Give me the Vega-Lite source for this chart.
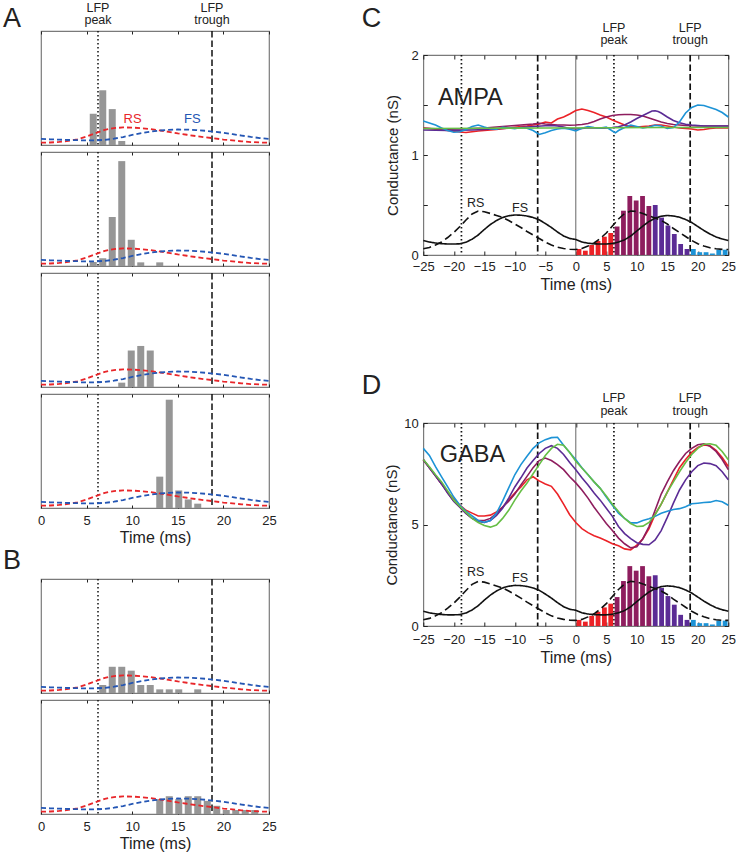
{
"$schema":"https://vega.github.io/schema/vega-lite/v6.json",
"background":"white",
"padding":{"left":2,"top":0,"right":0,"bottom":0},
"autosize":{"type":"pad"},
"spacing":83.3,
"config":{
 "font":"Liberation Sans",
 "scale":{"continuousPadding":0},
 "view":{"stroke":"#7a7a7a","strokeWidth":1.2},
 "axis":{"domain":false,"grid":false,"tickColor":"#222","tickWidth":1,"tickSize":-4,"labelFont":"Liberation Sans","labelFontSize":13,"labelColor":"#222","labelFlush":false,"labelOverlap":false,"titleFont":"Liberation Sans","titleFontSize":16,"titleFontWeight":"normal","titleColor":"#222","labelPadding":9},
 "text":{"font":"Liberation Sans","color":"#222","baseline":"alphabetic"}
},
"datasets":{
 "spacer":[{"t":0}],
 "vlinesA":[{"t":6.25,"k":"dot"},{"t":18.75,"k":"dash"}],
 "vlinesC":[{"t":-18.75,"k":"dot"},{"t":-6.25,"k":"dash"},{"t":6.25,"k":"dot"},{"t":18.75,"k":"dash"}],
 "zeroline":[{"t":0}],
 "curvesA":[
  {"t":0,"v":0.02,"s":"RS"},{"t":1,"v":0.022,"s":"RS"},{"t":2,"v":0.027,"s":"RS"},{"t":3,"v":0.036,"s":"RS"},{"t":4,"v":0.05,"s":"RS"},{"t":5,"v":0.075,"s":"RS"},{"t":6,"v":0.105,"s":"RS"},{"t":7,"v":0.133,"s":"RS"},{"t":8,"v":0.148,"s":"RS"},{"t":9,"v":0.154,"s":"RS"},{"t":10,"v":0.153,"s":"RS"},{"t":11,"v":0.148,"s":"RS"},{"t":12,"v":0.14,"s":"RS"},{"t":13,"v":0.128,"s":"RS"},{"t":14,"v":0.116,"s":"RS"},{"t":15,"v":0.102,"s":"RS"},{"t":16,"v":0.09,"s":"RS"},{"t":17,"v":0.078,"s":"RS"},{"t":18,"v":0.068,"s":"RS"},{"t":19,"v":0.058,"s":"RS"},{"t":20,"v":0.048,"s":"RS"},{"t":21,"v":0.04,"s":"RS"},{"t":22,"v":0.032,"s":"RS"},{"t":23,"v":0.026,"s":"RS"},{"t":24,"v":0.022,"s":"RS"},{"t":25,"v":0.02,"s":"RS"},
  {"t":0,"v":0.053,"s":"FS"},{"t":1,"v":0.05,"s":"FS"},{"t":2,"v":0.047,"s":"FS"},{"t":3,"v":0.044,"s":"FS"},{"t":4,"v":0.042,"s":"FS"},{"t":5,"v":0.04,"s":"FS"},{"t":6,"v":0.041,"s":"FS"},{"t":7,"v":0.045,"s":"FS"},{"t":8,"v":0.055,"s":"FS"},{"t":9,"v":0.07,"s":"FS"},{"t":10,"v":0.088,"s":"FS"},{"t":11,"v":0.104,"s":"FS"},{"t":12,"v":0.117,"s":"FS"},{"t":13,"v":0.127,"s":"FS"},{"t":14,"v":0.133,"s":"FS"},{"t":15,"v":0.136,"s":"FS"},{"t":16,"v":0.135,"s":"FS"},{"t":17,"v":0.131,"s":"FS"},{"t":18,"v":0.125,"s":"FS"},{"t":19,"v":0.117,"s":"FS"},{"t":20,"v":0.107,"s":"FS"},{"t":21,"v":0.095,"s":"FS"},{"t":22,"v":0.083,"s":"FS"},{"t":23,"v":0.071,"s":"FS"},{"t":24,"v":0.061,"s":"FS"},{"t":25,"v":0.053,"s":"FS"}
 ],
 "barsA1":[{"t":5.729,"h":0.274},{"t":6.771,"h":0.48},{"t":7.813,"h":0.315},{"t":8.854,"h":0.035}],
 "barsA2":[{"t":5.729,"h":0.035},{"t":6.771,"h":0.068},{"t":7.813,"h":0.43},{"t":8.854,"h":0.92},{"t":9.896,"h":0.23},{"t":10.938,"h":0.032},{"t":13.021,"h":0.032}],
 "barsA3":[{"t":8.854,"h":0.038},{"t":9.896,"h":0.32},{"t":10.938,"h":0.36},{"t":11.979,"h":0.32}],
 "barsA4":[{"t":13.021,"h":0.275},{"t":14.063,"h":0.95},{"t":15.104,"h":0.154},{"t":16.146,"h":0.075},{"t":17.188,"h":0.038}],
 "barsB1":[{"t":6.771,"h":0.07},{"t":7.813,"h":0.23},{"t":8.854,"h":0.23},{"t":9.896,"h":0.196},{"t":10.938,"h":0.07},{"t":11.979,"h":0.07},{"t":13.021,"h":0.032},{"t":14.063,"h":0.032},{"t":15.104,"h":0.032},{"t":17.188,"h":0.032}],
 "barsB2":[{"t":13.021,"h":0.13},{"t":14.063,"h":0.156},{"t":15.104,"h":0.13},{"t":16.146,"h":0.156},{"t":17.188,"h":0.156},{"t":18.229,"h":0.115},{"t":19.271,"h":0.072},{"t":20.313,"h":0.035},{"t":21.354,"h":0.035},{"t":22.396,"h":0.035},{"t":23.438,"h":0.035}],
 "lfpA":[{"t":6.25,"v":1.171,"label":"LFP"},{"t":6.25,"v":1.061,"label":"peak"},{"t":18.75,"v":1.171,"label":"LFP"},{"t":18.75,"v":1.061,"label":"trough"}],
 "rsfsA":[{"t":10.05,"v":0.196,"label":"RS","s":"RS"},{"t":16.6,"v":0.196,"label":"FS","s":"FS"}],
 "letterA":[{"t":-4.17,"v":1.035,"label":"A"}],
 "letterB":[{"t":-4.17,"v":1.088,"label":"B"}],
 "textC":[{"t":6.25,"v":2.231,"label":"LFP"},{"t":6.25,"v":2.106,"label":"peak"},{"t":18.75,"v":2.231,"label":"LFP"},{"t":18.75,"v":2.106,"label":"trough"},{"t":-16.4,"v":0.485,"label":"RS"},{"t":-9.15,"v":0.43,"label":"FS"}],
 "bigC":[{"t":-22.6,"v":1.5,"label":"AMPA"}],
 "letterC":[{"t":-35.1,"v":2.28,"label":"C"}],
 "textD":[{"t":6.25,"v":11.03,"label":"LFP"},{"t":6.25,"v":10.41,"label":"peak"},{"t":18.75,"v":11.03,"label":"LFP"},{"t":18.75,"v":10.41,"label":"trough"},{"t":-16.4,"v":2.45,"label":"RS"},{"t":-9.15,"v":2.15,"label":"FS"}],
 "bigD":[{"t":-22.3,"v":8.07,"label":"GABA"}],
 "letterD":[{"t":-35.1,"v":11.41,"label":"D"}],
 "barsC":[
  {"t":0.521,"h":0.06,"g":"red"},{"t":1.563,"h":0.043,"g":"red"},{"t":2.604,"h":0.1,"g":"red"},{"t":3.646,"h":0.14,"g":"red"},{"t":4.688,"h":0.183,"g":"red"},{"t":5.729,"h":0.22,"g":"red"},
  {"t":6.771,"h":0.285,"g":"maroon"},{"t":7.813,"h":0.443,"g":"maroon"},{"t":8.854,"h":0.59,"g":"maroon"},{"t":9.896,"h":0.545,"g":"maroon"},{"t":10.938,"h":0.59,"g":"maroon"},{"t":11.979,"h":0.49,"g":"maroon"},
  {"t":13.021,"h":0.5,"g":"purple"},{"t":14.063,"h":0.374,"g":"purple"},{"t":15.104,"h":0.295,"g":"purple"},{"t":16.146,"h":0.21,"g":"purple"},{"t":17.188,"h":0.11,"g":"purple"},{"t":18.229,"h":0.06,"g":"purple"},
  {"t":19.271,"h":0.06,"g":"blue"},{"t":20.313,"h":0.028,"g":"blue"},{"t":21.354,"h":0.028,"g":"blue"},{"t":22.396,"h":0.015,"g":"blue"},{"t":23.438,"h":0.053,"g":"blue"},{"t":24.479,"h":0.053,"g":"blue"}
 ],
 "barsD":[
  {"t":0.521,"h":0.3,"g":"red"},{"t":1.563,"h":0.215,"g":"red"},{"t":2.604,"h":0.5,"g":"red"},{"t":3.646,"h":0.7,"g":"red"},{"t":4.688,"h":0.915,"g":"red"},{"t":5.729,"h":1.1,"g":"red"},
  {"t":6.771,"h":1.425,"g":"maroon"},{"t":7.813,"h":2.215,"g":"maroon"},{"t":8.854,"h":2.95,"g":"maroon"},{"t":9.896,"h":2.725,"g":"maroon"},{"t":10.938,"h":2.95,"g":"maroon"},{"t":11.979,"h":2.45,"g":"maroon"},
  {"t":13.021,"h":2.5,"g":"purple"},{"t":14.063,"h":1.87,"g":"purple"},{"t":15.104,"h":1.475,"g":"purple"},{"t":16.146,"h":1.05,"g":"purple"},{"t":17.188,"h":0.55,"g":"purple"},{"t":18.229,"h":0.3,"g":"purple"},
  {"t":19.271,"h":0.3,"g":"blue"},{"t":20.313,"h":0.14,"g":"blue"},{"t":21.354,"h":0.14,"g":"blue"},{"t":22.396,"h":0.075,"g":"blue"},{"t":23.438,"h":0.265,"g":"blue"},{"t":24.479,"h":0.265,"g":"blue"}
 ],
 "blackC":[
  {"t":-25,"v":0.062,"s":"RS"},{"t":-24,"v":0.075,"s":"RS"},{"t":-23,"v":0.1,"s":"RS"},{"t":-22,"v":0.13,"s":"RS"},{"t":-21,"v":0.175,"s":"RS"},{"t":-20,"v":0.225,"s":"RS"},{"t":-19,"v":0.285,"s":"RS"},{"t":-18,"v":0.35,"s":"RS"},{"t":-17,"v":0.41,"s":"RS"},{"t":-16,"v":0.44,"s":"RS"},{"t":-15,"v":0.432,"s":"RS"},{"t":-14,"v":0.415,"s":"RS"},{"t":-13,"v":0.395,"s":"RS"},{"t":-12,"v":0.375,"s":"RS"},{"t":-11,"v":0.345,"s":"RS"},{"t":-10,"v":0.31,"s":"RS"},{"t":-9,"v":0.275,"s":"RS"},{"t":-8,"v":0.235,"s":"RS"},{"t":-7,"v":0.2,"s":"RS"},{"t":-6,"v":0.165,"s":"RS"},{"t":-5,"v":0.13,"s":"RS"},{"t":-4,"v":0.1,"s":"RS"},{"t":-3,"v":0.078,"s":"RS"},{"t":-2,"v":0.065,"s":"RS"},{"t":-1,"v":0.058,"s":"RS"},
  {"t":0,"v":0.055,"s":"RS"},{"t":1,"v":0.065,"s":"RS"},{"t":2,"v":0.09,"s":"RS"},{"t":3,"v":0.12,"s":"RS"},{"t":4,"v":0.165,"s":"RS"},{"t":5,"v":0.22,"s":"RS"},{"t":6,"v":0.29,"s":"RS"},{"t":7,"v":0.36,"s":"RS"},{"t":8,"v":0.415,"s":"RS"},{"t":9,"v":0.44,"s":"RS"},{"t":10,"v":0.435,"s":"RS"},{"t":11,"v":0.415,"s":"RS"},{"t":12,"v":0.39,"s":"RS"},{"t":13,"v":0.37,"s":"RS"},{"t":14,"v":0.345,"s":"RS"},{"t":15,"v":0.31,"s":"RS"},{"t":16,"v":0.265,"s":"RS"},{"t":17,"v":0.225,"s":"RS"},{"t":18,"v":0.185,"s":"RS"},{"t":19,"v":0.145,"s":"RS"},{"t":20,"v":0.113,"s":"RS"},{"t":21,"v":0.09,"s":"RS"},{"t":22,"v":0.072,"s":"RS"},{"t":23,"v":0.062,"s":"RS"},{"t":24,"v":0.056,"s":"RS"},{"t":25,"v":0.055,"s":"RS"},
  {"t":-25,"v":0.145,"s":"FS"},{"t":-24,"v":0.13,"s":"FS"},{"t":-23,"v":0.12,"s":"FS"},{"t":-22,"v":0.113,"s":"FS"},{"t":-21,"v":0.11,"s":"FS"},{"t":-20,"v":0.11,"s":"FS"},{"t":-19,"v":0.112,"s":"FS"},{"t":-18,"v":0.128,"s":"FS"},{"t":-17,"v":0.158,"s":"FS"},{"t":-16,"v":0.2,"s":"FS"},{"t":-15,"v":0.255,"s":"FS"},{"t":-14,"v":0.305,"s":"FS"},{"t":-13,"v":0.345,"s":"FS"},{"t":-12,"v":0.375,"s":"FS"},{"t":-11,"v":0.392,"s":"FS"},{"t":-10,"v":0.4,"s":"FS"},{"t":-9,"v":0.398,"s":"FS"},{"t":-8,"v":0.39,"s":"FS"},{"t":-7,"v":0.375,"s":"FS"},{"t":-6,"v":0.352,"s":"FS"},{"t":-5,"v":0.315,"s":"FS"},{"t":-4,"v":0.275,"s":"FS"},{"t":-3,"v":0.23,"s":"FS"},{"t":-2,"v":0.19,"s":"FS"},{"t":-1,"v":0.165,"s":"FS"},
  {"t":0,"v":0.155,"s":"FS"},{"t":1,"v":0.13,"s":"FS"},{"t":2,"v":0.118,"s":"FS"},{"t":3,"v":0.112,"s":"FS"},{"t":4,"v":0.11,"s":"FS"},{"t":5,"v":0.11,"s":"FS"},{"t":6,"v":0.115,"s":"FS"},{"t":7,"v":0.13,"s":"FS"},{"t":8,"v":0.152,"s":"FS"},{"t":9,"v":0.19,"s":"FS"},{"t":10,"v":0.24,"s":"FS"},{"t":11,"v":0.29,"s":"FS"},{"t":12,"v":0.335,"s":"FS"},{"t":13,"v":0.368,"s":"FS"},{"t":14,"v":0.388,"s":"FS"},{"t":15,"v":0.395,"s":"FS"},{"t":16,"v":0.39,"s":"FS"},{"t":17,"v":0.378,"s":"FS"},{"t":18,"v":0.355,"s":"FS"},{"t":19,"v":0.325,"s":"FS"},{"t":20,"v":0.285,"s":"FS"},{"t":21,"v":0.245,"s":"FS"},{"t":22,"v":0.21,"s":"FS"},{"t":23,"v":0.18,"s":"FS"},{"t":24,"v":0.16,"s":"FS"},{"t":25,"v":0.145,"s":"FS"}
 ],
 "blackD":[
  {"t":-25,"v":0.31,"s":"RS"},{"t":-24,"v":0.375,"s":"RS"},{"t":-23,"v":0.5,"s":"RS"},{"t":-22,"v":0.65,"s":"RS"},{"t":-21,"v":0.875,"s":"RS"},{"t":-20,"v":1.125,"s":"RS"},{"t":-19,"v":1.425,"s":"RS"},{"t":-18,"v":1.75,"s":"RS"},{"t":-17,"v":2.05,"s":"RS"},{"t":-16,"v":2.2,"s":"RS"},{"t":-15,"v":2.16,"s":"RS"},{"t":-14,"v":2.075,"s":"RS"},{"t":-13,"v":1.975,"s":"RS"},{"t":-12,"v":1.875,"s":"RS"},{"t":-11,"v":1.725,"s":"RS"},{"t":-10,"v":1.55,"s":"RS"},{"t":-9,"v":1.375,"s":"RS"},{"t":-8,"v":1.175,"s":"RS"},{"t":-7,"v":1.0,"s":"RS"},{"t":-6,"v":0.825,"s":"RS"},{"t":-5,"v":0.65,"s":"RS"},{"t":-4,"v":0.5,"s":"RS"},{"t":-3,"v":0.39,"s":"RS"},{"t":-2,"v":0.325,"s":"RS"},{"t":-1,"v":0.29,"s":"RS"},
  {"t":0,"v":0.275,"s":"RS"},{"t":1,"v":0.325,"s":"RS"},{"t":2,"v":0.45,"s":"RS"},{"t":3,"v":0.6,"s":"RS"},{"t":4,"v":0.825,"s":"RS"},{"t":5,"v":1.1,"s":"RS"},{"t":6,"v":1.45,"s":"RS"},{"t":7,"v":1.8,"s":"RS"},{"t":8,"v":2.075,"s":"RS"},{"t":9,"v":2.2,"s":"RS"},{"t":10,"v":2.175,"s":"RS"},{"t":11,"v":2.075,"s":"RS"},{"t":12,"v":1.95,"s":"RS"},{"t":13,"v":1.85,"s":"RS"},{"t":14,"v":1.725,"s":"RS"},{"t":15,"v":1.55,"s":"RS"},{"t":16,"v":1.325,"s":"RS"},{"t":17,"v":1.125,"s":"RS"},{"t":18,"v":0.925,"s":"RS"},{"t":19,"v":0.725,"s":"RS"},{"t":20,"v":0.565,"s":"RS"},{"t":21,"v":0.45,"s":"RS"},{"t":22,"v":0.36,"s":"RS"},{"t":23,"v":0.31,"s":"RS"},{"t":24,"v":0.28,"s":"RS"},{"t":25,"v":0.275,"s":"RS"},
  {"t":-25,"v":0.725,"s":"FS"},{"t":-24,"v":0.65,"s":"FS"},{"t":-23,"v":0.6,"s":"FS"},{"t":-22,"v":0.565,"s":"FS"},{"t":-21,"v":0.55,"s":"FS"},{"t":-20,"v":0.55,"s":"FS"},{"t":-19,"v":0.56,"s":"FS"},{"t":-18,"v":0.64,"s":"FS"},{"t":-17,"v":0.79,"s":"FS"},{"t":-16,"v":1.0,"s":"FS"},{"t":-15,"v":1.275,"s":"FS"},{"t":-14,"v":1.525,"s":"FS"},{"t":-13,"v":1.725,"s":"FS"},{"t":-12,"v":1.875,"s":"FS"},{"t":-11,"v":1.96,"s":"FS"},{"t":-10,"v":2.0,"s":"FS"},{"t":-9,"v":1.99,"s":"FS"},{"t":-8,"v":1.95,"s":"FS"},{"t":-7,"v":1.875,"s":"FS"},{"t":-6,"v":1.76,"s":"FS"},{"t":-5,"v":1.575,"s":"FS"},{"t":-4,"v":1.375,"s":"FS"},{"t":-3,"v":1.15,"s":"FS"},{"t":-2,"v":0.95,"s":"FS"},{"t":-1,"v":0.825,"s":"FS"},
  {"t":0,"v":0.775,"s":"FS"},{"t":1,"v":0.65,"s":"FS"},{"t":2,"v":0.59,"s":"FS"},{"t":3,"v":0.56,"s":"FS"},{"t":4,"v":0.55,"s":"FS"},{"t":5,"v":0.55,"s":"FS"},{"t":6,"v":0.575,"s":"FS"},{"t":7,"v":0.65,"s":"FS"},{"t":8,"v":0.76,"s":"FS"},{"t":9,"v":0.95,"s":"FS"},{"t":10,"v":1.2,"s":"FS"},{"t":11,"v":1.45,"s":"FS"},{"t":12,"v":1.675,"s":"FS"},{"t":13,"v":1.84,"s":"FS"},{"t":14,"v":1.94,"s":"FS"},{"t":15,"v":1.975,"s":"FS"},{"t":16,"v":1.95,"s":"FS"},{"t":17,"v":1.89,"s":"FS"},{"t":18,"v":1.775,"s":"FS"},{"t":19,"v":1.625,"s":"FS"},{"t":20,"v":1.425,"s":"FS"},{"t":21,"v":1.225,"s":"FS"},{"t":22,"v":1.05,"s":"FS"},{"t":23,"v":0.9,"s":"FS"},{"t":24,"v":0.8,"s":"FS"},{"t":25,"v":0.725,"s":"FS"}
 ],
 "ampa":[
  {"t":-25,"v":1.27,"c":"red"},{"t":-24,"v":1.265,"c":"red"},{"t":-23,"v":1.258,"c":"red"},{"t":-22,"v":1.25,"c":"red"},{"t":-21,"v":1.245,"c":"red"},{"t":-20,"v":1.238,"c":"red"},{"t":-19,"v":1.23,"c":"red"},{"t":-18,"v":1.225,"c":"red"},{"t":-17,"v":1.232,"c":"red"},{"t":-16,"v":1.24,"c":"red"},{"t":-15,"v":1.245,"c":"red"},{"t":-14,"v":1.25,"c":"red"},{"t":-13,"v":1.255,"c":"red"},{"t":-12,"v":1.262,"c":"red"},{"t":-11,"v":1.27,"c":"red"},{"t":-10,"v":1.278,"c":"red"},{"t":-9,"v":1.285,"c":"red"},{"t":-8,"v":1.29,"c":"red"},{"t":-7,"v":1.3,"c":"red"},{"t":-6,"v":1.31,"c":"red"},{"t":-5,"v":1.33,"c":"red"},{"t":-4,"v":1.32,"c":"red"},{"t":-3,"v":1.36,"c":"red"},{"t":-2,"v":1.38,"c":"red"},{"t":-1,"v":1.41,"c":"red"},{"t":0,"v":1.445,"c":"red"},{"t":1,"v":1.46,"c":"red"},{"t":2,"v":1.445,"c":"red"},{"t":3,"v":1.425,"c":"red"},{"t":4,"v":1.4,"c":"red"},{"t":5,"v":1.38,"c":"red"},{"t":6,"v":1.35,"c":"red"},{"t":7,"v":1.325,"c":"red"},{"t":8,"v":1.3,"c":"red"},{"t":9,"v":1.285,"c":"red"},{"t":10,"v":1.28,"c":"red"},{"t":11,"v":1.285,"c":"red"},{"t":12,"v":1.29,"c":"red"},{"t":13,"v":1.3,"c":"red"},{"t":14,"v":1.3,"c":"red"},{"t":15,"v":1.29,"c":"red"},{"t":16,"v":1.28,"c":"red"},{"t":17,"v":1.27,"c":"red"},{"t":18,"v":1.265,"c":"red"},{"t":19,"v":1.26,"c":"red"},{"t":20,"v":1.25,"c":"red"},{"t":21,"v":1.255,"c":"red"},{"t":22,"v":1.265,"c":"red"},{"t":23,"v":1.27,"c":"red"},{"t":24,"v":1.27,"c":"red"},{"t":25,"v":1.27,"c":"red"},
  {"t":-25,"v":1.268,"c":"maroon"},{"t":-23,"v":1.262,"c":"maroon"},{"t":-21,"v":1.258,"c":"maroon"},{"t":-19,"v":1.26,"c":"maroon"},{"t":-17,"v":1.265,"c":"maroon"},{"t":-15,"v":1.27,"c":"maroon"},{"t":-13,"v":1.28,"c":"maroon"},{"t":-11,"v":1.29,"c":"maroon"},{"t":-9,"v":1.3,"c":"maroon"},{"t":-7,"v":1.31,"c":"maroon"},{"t":-6,"v":1.318,"c":"maroon"},{"t":-5,"v":1.31,"c":"maroon"},{"t":-4,"v":1.305,"c":"maroon"},{"t":-3,"v":1.3,"c":"maroon"},{"t":-2,"v":1.3,"c":"maroon"},{"t":-1,"v":1.298,"c":"maroon"},{"t":0,"v":1.3,"c":"maroon"},{"t":1,"v":1.305,"c":"maroon"},{"t":2,"v":1.315,"c":"maroon"},{"t":3,"v":1.335,"c":"maroon"},{"t":4,"v":1.36,"c":"maroon"},{"t":5,"v":1.38,"c":"maroon"},{"t":6,"v":1.395,"c":"maroon"},{"t":7,"v":1.402,"c":"maroon"},{"t":8,"v":1.405,"c":"maroon"},{"t":9,"v":1.405,"c":"maroon"},{"t":10,"v":1.4,"c":"maroon"},{"t":11,"v":1.39,"c":"maroon"},{"t":12,"v":1.37,"c":"maroon"},{"t":13,"v":1.35,"c":"maroon"},{"t":14,"v":1.33,"c":"maroon"},{"t":15,"v":1.315,"c":"maroon"},{"t":16,"v":1.305,"c":"maroon"},{"t":17,"v":1.3,"c":"maroon"},{"t":18,"v":1.295,"c":"maroon"},{"t":19,"v":1.292,"c":"maroon"},{"t":20,"v":1.29,"c":"maroon"},{"t":22,"v":1.29,"c":"maroon"},{"t":25,"v":1.29,"c":"maroon"},
  {"t":-25,"v":1.25,"c":"purple"},{"t":-23,"v":1.248,"c":"purple"},{"t":-21,"v":1.245,"c":"purple"},{"t":-19,"v":1.247,"c":"purple"},{"t":-17,"v":1.25,"c":"purple"},{"t":-15,"v":1.255,"c":"purple"},{"t":-13,"v":1.262,"c":"purple"},{"t":-11,"v":1.268,"c":"purple"},{"t":-9,"v":1.275,"c":"purple"},{"t":-7,"v":1.285,"c":"purple"},{"t":-5,"v":1.292,"c":"purple"},{"t":-4,"v":1.295,"c":"purple"},{"t":-3,"v":1.29,"c":"purple"},{"t":-2,"v":1.28,"c":"purple"},{"t":-1,"v":1.265,"c":"purple"},{"t":0,"v":1.26,"c":"purple"},{"t":1,"v":1.265,"c":"purple"},{"t":2,"v":1.272,"c":"purple"},{"t":3,"v":1.27,"c":"purple"},{"t":4,"v":1.268,"c":"purple"},{"t":5,"v":1.27,"c":"purple"},{"t":6,"v":1.275,"c":"purple"},{"t":7,"v":1.283,"c":"purple"},{"t":8,"v":1.3,"c":"purple"},{"t":9,"v":1.33,"c":"purple"},{"t":10,"v":1.365,"c":"purple"},{"t":11,"v":1.395,"c":"purple"},{"t":12,"v":1.425,"c":"purple"},{"t":12.5,"v":1.44,"c":"purple"},{"t":13,"v":1.442,"c":"purple"},{"t":13.5,"v":1.435,"c":"purple"},{"t":14,"v":1.42,"c":"purple"},{"t":15,"v":1.38,"c":"purple"},{"t":16,"v":1.345,"c":"purple"},{"t":17,"v":1.322,"c":"purple"},{"t":18,"v":1.308,"c":"purple"},{"t":19,"v":1.3,"c":"purple"},{"t":20,"v":1.295,"c":"purple"},{"t":21,"v":1.29,"c":"purple"},{"t":25,"v":1.29,"c":"purple"},
  {"t":-25,"v":1.34,"c":"blue"},{"t":-24,"v":1.32,"c":"blue"},{"t":-23,"v":1.3,"c":"blue"},{"t":-22,"v":1.27,"c":"blue"},{"t":-21,"v":1.245,"c":"blue"},{"t":-20,"v":1.228,"c":"blue"},{"t":-19,"v":1.232,"c":"blue"},{"t":-18,"v":1.255,"c":"blue"},{"t":-17,"v":1.285,"c":"blue"},{"t":-16,"v":1.3,"c":"blue"},{"t":-15,"v":1.28,"c":"blue"},{"t":-14,"v":1.262,"c":"blue"},{"t":-13,"v":1.258,"c":"blue"},{"t":-12,"v":1.278,"c":"blue"},{"t":-11,"v":1.27,"c":"blue"},{"t":-10,"v":1.262,"c":"blue"},{"t":-9,"v":1.275,"c":"blue"},{"t":-8,"v":1.268,"c":"blue"},{"t":-7,"v":1.245,"c":"blue"},{"t":-6,"v":1.205,"c":"blue"},{"t":-5,"v":1.222,"c":"blue"},{"t":-4,"v":1.245,"c":"blue"},{"t":-3,"v":1.26,"c":"blue"},{"t":-2,"v":1.268,"c":"blue"},{"t":-1,"v":1.258,"c":"blue"},{"t":0,"v":1.24,"c":"blue"},{"t":1,"v":1.268,"c":"blue"},{"t":2,"v":1.285,"c":"blue"},{"t":3,"v":1.275,"c":"blue"},{"t":4,"v":1.27,"c":"blue"},{"t":5,"v":1.28,"c":"blue"},{"t":6,"v":1.24,"c":"blue"},{"t":6.5,"v":1.222,"c":"blue"},{"t":7,"v":1.245,"c":"blue"},{"t":8,"v":1.275,"c":"blue"},{"t":9,"v":1.298,"c":"blue"},{"t":10,"v":1.285,"c":"blue"},{"t":11,"v":1.27,"c":"blue"},{"t":12,"v":1.28,"c":"blue"},{"t":13,"v":1.298,"c":"blue"},{"t":14,"v":1.29,"c":"blue"},{"t":15,"v":1.265,"c":"blue"},{"t":16,"v":1.275,"c":"blue"},{"t":17,"v":1.33,"c":"blue"},{"t":18,"v":1.42,"c":"blue"},{"t":19,"v":1.475,"c":"blue"},{"t":20,"v":1.5,"c":"blue"},{"t":21,"v":1.495,"c":"blue"},{"t":22,"v":1.475,"c":"blue"},{"t":23,"v":1.455,"c":"blue"},{"t":24,"v":1.425,"c":"blue"},{"t":25,"v":1.38,"c":"blue"},
  {"t":-25,"v":1.265,"c":"green"},{"t":-15,"v":1.268,"c":"green"},{"t":-5,"v":1.27,"c":"green"},{"t":5,"v":1.272,"c":"green"},{"t":15,"v":1.275,"c":"green"},{"t":25,"v":1.275,"c":"green"}
 ],
 "gaba":[
  {"t":-25,"v":8.19,"c":"red"},{"t":-24,"v":7.8,"c":"red"},{"t":-23,"v":7.4,"c":"red"},{"t":-22,"v":7.0,"c":"red"},{"t":-21,"v":6.6,"c":"red"},{"t":-20,"v":6.25,"c":"red"},{"t":-19,"v":5.95,"c":"red"},{"t":-18,"v":5.7,"c":"red"},{"t":-17,"v":5.56,"c":"red"},{"t":-16,"v":5.42,"c":"red"},{"t":-15,"v":5.42,"c":"red"},{"t":-14,"v":5.46,"c":"red"},{"t":-13,"v":5.62,"c":"red"},{"t":-12,"v":5.85,"c":"red"},{"t":-11,"v":6.22,"c":"red"},{"t":-10,"v":6.55,"c":"red"},{"t":-9,"v":6.85,"c":"red"},{"t":-8,"v":7.2,"c":"red"},{"t":-7,"v":7.35,"c":"red"},{"t":-6,"v":7.15,"c":"red"},{"t":-5,"v":7.0,"c":"red"},{"t":-4,"v":6.88,"c":"red"},{"t":-3,"v":6.5,"c":"red"},{"t":-2,"v":6.0,"c":"red"},{"t":-1,"v":5.48,"c":"red"},{"t":0,"v":5.1,"c":"red"},{"t":1,"v":4.8,"c":"red"},{"t":2,"v":4.6,"c":"red"},{"t":3,"v":4.45,"c":"red"},{"t":4,"v":4.33,"c":"red"},{"t":5,"v":4.2,"c":"red"},{"t":6,"v":4.05,"c":"red"},{"t":7,"v":3.95,"c":"red"},{"t":8,"v":3.8,"c":"red"},{"t":9,"v":3.75,"c":"red"},{"t":10,"v":3.98,"c":"red"},{"t":11,"v":4.3,"c":"red"},{"t":12,"v":4.8,"c":"red"},{"t":13,"v":5.5,"c":"red"},{"t":14,"v":6.0,"c":"red"},{"t":15,"v":6.6,"c":"red"},{"t":16,"v":7.2,"c":"red"},{"t":17,"v":7.8,"c":"red"},{"t":18,"v":8.2,"c":"red"},{"t":19,"v":8.55,"c":"red"},{"t":20,"v":8.8,"c":"red"},{"t":21,"v":8.92,"c":"red"},{"t":22,"v":8.88,"c":"red"},{"t":23,"v":8.65,"c":"red"},{"t":24,"v":8.3,"c":"red"},{"t":25,"v":7.86,"c":"red"},
  {"t":-25,"v":8.19,"c":"maroon"},{"t":-24,"v":7.8,"c":"maroon"},{"t":-23,"v":7.4,"c":"maroon"},{"t":-22,"v":7.0,"c":"maroon"},{"t":-21,"v":6.55,"c":"maroon"},{"t":-20,"v":6.15,"c":"maroon"},{"t":-19,"v":5.85,"c":"maroon"},{"t":-18,"v":5.55,"c":"maroon"},{"t":-17,"v":5.3,"c":"maroon"},{"t":-16,"v":5.2,"c":"maroon"},{"t":-15,"v":5.2,"c":"maroon"},{"t":-14,"v":5.3,"c":"maroon"},{"t":-13,"v":5.55,"c":"maroon"},{"t":-12,"v":5.85,"c":"maroon"},{"t":-11,"v":6.15,"c":"maroon"},{"t":-10,"v":6.5,"c":"maroon"},{"t":-9,"v":6.95,"c":"maroon"},{"t":-8,"v":7.37,"c":"maroon"},{"t":-7,"v":7.8,"c":"maroon"},{"t":-6,"v":8.15,"c":"maroon"},{"t":-5,"v":8.27,"c":"maroon"},{"t":-4,"v":8.15,"c":"maroon"},{"t":-3,"v":7.95,"c":"maroon"},{"t":-2,"v":7.7,"c":"maroon"},{"t":-1,"v":7.35,"c":"maroon"},{"t":0,"v":7.05,"c":"maroon"},{"t":1,"v":6.7,"c":"maroon"},{"t":2,"v":6.3,"c":"maroon"},{"t":3,"v":5.85,"c":"maroon"},{"t":4,"v":5.45,"c":"maroon"},{"t":5,"v":5.05,"c":"maroon"},{"t":6,"v":4.7,"c":"maroon"},{"t":7,"v":4.33,"c":"maroon"},{"t":8,"v":4.05,"c":"maroon"},{"t":9,"v":3.85,"c":"maroon"},{"t":10,"v":3.9,"c":"maroon"},{"t":11,"v":4.3,"c":"maroon"},{"t":12,"v":4.9,"c":"maroon"},{"t":13,"v":5.7,"c":"maroon"},{"t":14,"v":6.5,"c":"maroon"},{"t":15,"v":7.1,"c":"maroon"},{"t":16,"v":7.65,"c":"maroon"},{"t":17,"v":8.1,"c":"maroon"},{"t":18,"v":8.5,"c":"maroon"},{"t":19,"v":8.75,"c":"maroon"},{"t":20,"v":8.93,"c":"maroon"},{"t":21,"v":8.98,"c":"maroon"},{"t":22,"v":8.85,"c":"maroon"},{"t":23,"v":8.6,"c":"maroon"},{"t":24,"v":8.2,"c":"maroon"},{"t":25,"v":7.7,"c":"maroon"},
  {"t":-25,"v":8.2,"c":"purple"},{"t":-24,"v":7.8,"c":"purple"},{"t":-23,"v":7.4,"c":"purple"},{"t":-22,"v":7.0,"c":"purple"},{"t":-21,"v":6.55,"c":"purple"},{"t":-20,"v":6.15,"c":"purple"},{"t":-19,"v":5.85,"c":"purple"},{"t":-18,"v":5.55,"c":"purple"},{"t":-17,"v":5.3,"c":"purple"},{"t":-16,"v":5.15,"c":"purple"},{"t":-15,"v":5.1,"c":"purple"},{"t":-14,"v":5.2,"c":"purple"},{"t":-13,"v":5.45,"c":"purple"},{"t":-12,"v":5.8,"c":"purple"},{"t":-11,"v":6.3,"c":"purple"},{"t":-10,"v":6.85,"c":"purple"},{"t":-9,"v":7.3,"c":"purple"},{"t":-8,"v":7.78,"c":"purple"},{"t":-7,"v":8.15,"c":"purple"},{"t":-6,"v":8.5,"c":"purple"},{"t":-5,"v":8.75,"c":"purple"},{"t":-4,"v":8.88,"c":"purple"},{"t":-3,"v":8.75,"c":"purple"},{"t":-2,"v":8.45,"c":"purple"},{"t":-1,"v":8.05,"c":"purple"},{"t":0,"v":7.7,"c":"purple"},{"t":1,"v":7.3,"c":"purple"},{"t":2,"v":6.95,"c":"purple"},{"t":3,"v":6.55,"c":"purple"},{"t":4,"v":6.2,"c":"purple"},{"t":5,"v":5.8,"c":"purple"},{"t":6,"v":5.4,"c":"purple"},{"t":7,"v":4.9,"c":"purple"},{"t":8,"v":4.55,"c":"purple"},{"t":9,"v":4.3,"c":"purple"},{"t":10,"v":4.1,"c":"purple"},{"t":11,"v":4.02,"c":"purple"},{"t":12,"v":4.0,"c":"purple"},{"t":13,"v":4.24,"c":"purple"},{"t":14,"v":4.7,"c":"purple"},{"t":15,"v":5.35,"c":"purple"},{"t":16,"v":6.05,"c":"purple"},{"t":17,"v":6.7,"c":"purple"},{"t":18,"v":7.2,"c":"purple"},{"t":19,"v":7.6,"c":"purple"},{"t":20,"v":7.9,"c":"purple"},{"t":21,"v":8.03,"c":"purple"},{"t":22,"v":8.0,"c":"purple"},{"t":23,"v":7.9,"c":"purple"},{"t":24,"v":7.6,"c":"purple"},{"t":25,"v":7.2,"c":"purple"},
  {"t":-25,"v":8.75,"c":"blue"},{"t":-24,"v":8.4,"c":"blue"},{"t":-23,"v":7.85,"c":"blue"},{"t":-22,"v":7.35,"c":"blue"},{"t":-21,"v":6.85,"c":"blue"},{"t":-20,"v":6.35,"c":"blue"},{"t":-19,"v":5.95,"c":"blue"},{"t":-18,"v":5.65,"c":"blue"},{"t":-17,"v":5.42,"c":"blue"},{"t":-16,"v":5.2,"c":"blue"},{"t":-15,"v":5.1,"c":"blue"},{"t":-14,"v":5.2,"c":"blue"},{"t":-13,"v":5.56,"c":"blue"},{"t":-12,"v":6.15,"c":"blue"},{"t":-11,"v":6.8,"c":"blue"},{"t":-10,"v":7.45,"c":"blue"},{"t":-9,"v":7.95,"c":"blue"},{"t":-8,"v":8.36,"c":"blue"},{"t":-7,"v":8.75,"c":"blue"},{"t":-6,"v":9.02,"c":"blue"},{"t":-5,"v":9.18,"c":"blue"},{"t":-4,"v":9.28,"c":"blue"},{"t":-3,"v":9.3,"c":"blue"},{"t":-2,"v":8.9,"c":"blue"},{"t":-1,"v":8.55,"c":"blue"},{"t":0,"v":8.19,"c":"blue"},{"t":1,"v":7.8,"c":"blue"},{"t":2,"v":7.45,"c":"blue"},{"t":3,"v":7.1,"c":"blue"},{"t":4,"v":6.78,"c":"blue"},{"t":5,"v":6.35,"c":"blue"},{"t":6,"v":5.95,"c":"blue"},{"t":7,"v":5.56,"c":"blue"},{"t":8,"v":5.3,"c":"blue"},{"t":9,"v":5.08,"c":"blue"},{"t":10,"v":5.08,"c":"blue"},{"t":11,"v":5.2,"c":"blue"},{"t":12,"v":5.28,"c":"blue"},{"t":13,"v":5.4,"c":"blue"},{"t":14,"v":5.55,"c":"blue"},{"t":15,"v":5.65,"c":"blue"},{"t":16,"v":5.74,"c":"blue"},{"t":17,"v":5.78,"c":"blue"},{"t":18,"v":5.88,"c":"blue"},{"t":19,"v":6.02,"c":"blue"},{"t":20,"v":6.05,"c":"blue"},{"t":21,"v":6.08,"c":"blue"},{"t":22,"v":6.1,"c":"blue"},{"t":23,"v":6.18,"c":"blue"},{"t":24,"v":6.12,"c":"blue"},{"t":25,"v":5.95,"c":"blue"},
  {"t":-25,"v":8.2,"c":"green"},{"t":-24,"v":7.85,"c":"green"},{"t":-23,"v":7.45,"c":"green"},{"t":-22,"v":7.1,"c":"green"},{"t":-21,"v":6.65,"c":"green"},{"t":-20,"v":6.2,"c":"green"},{"t":-19,"v":5.89,"c":"green"},{"t":-18,"v":5.6,"c":"green"},{"t":-17,"v":5.3,"c":"green"},{"t":-16,"v":5.1,"c":"green"},{"t":-15,"v":4.95,"c":"green"},{"t":-14,"v":4.87,"c":"green"},{"t":-13,"v":4.97,"c":"green"},{"t":-12,"v":5.3,"c":"green"},{"t":-11,"v":5.7,"c":"green"},{"t":-10,"v":6.2,"c":"green"},{"t":-9,"v":6.65,"c":"green"},{"t":-8,"v":7.04,"c":"green"},{"t":-7,"v":7.5,"c":"green"},{"t":-6,"v":7.95,"c":"green"},{"t":-5,"v":8.4,"c":"green"},{"t":-4,"v":8.75,"c":"green"},{"t":-3,"v":8.95,"c":"green"},{"t":-2,"v":8.9,"c":"green"},{"t":-1,"v":8.55,"c":"green"},{"t":0,"v":8.11,"c":"green"},{"t":1,"v":7.78,"c":"green"},{"t":2,"v":7.45,"c":"green"},{"t":3,"v":7.1,"c":"green"},{"t":4,"v":6.78,"c":"green"},{"t":5,"v":6.4,"c":"green"},{"t":6,"v":6.0,"c":"green"},{"t":7,"v":5.64,"c":"green"},{"t":8,"v":5.3,"c":"green"},{"t":9,"v":5.05,"c":"green"},{"t":10,"v":4.9,"c":"green"},{"t":11,"v":4.92,"c":"green"},{"t":12,"v":5.1,"c":"green"},{"t":13,"v":5.48,"c":"green"},{"t":14,"v":6.0,"c":"green"},{"t":15,"v":6.6,"c":"green"},{"t":16,"v":7.1,"c":"green"},{"t":17,"v":7.6,"c":"green"},{"t":18,"v":8.05,"c":"green"},{"t":19,"v":8.45,"c":"green"},{"t":20,"v":8.75,"c":"green"},{"t":21,"v":8.95,"c":"green"},{"t":22,"v":8.98,"c":"green"},{"t":23,"v":8.9,"c":"green"},{"t":24,"v":8.6,"c":"green"},{"t":25,"v":8.19,"c":"green"}
 ]
},
"hconcat":[
 {"bounds":"flush","spacing":7,"vconcat":[
   {"width":228,"height":114,"resolve":{"axis":{"x":"independent"}},"layer":[
    {"data":{"name":"barsA1"},"mark":{"type":"bar","width":7,"color":"#969696"},"encoding":{"x":{"field":"t","type":"quantitative","scale":{"domain":[0,25],"nice":false},"axis":{"orient":"bottom","values":[0,5,10,15,20,25],"tickSize":-3,"labels":false,"title":null}},"y":{"field":"h","type":"quantitative","scale":{"domain":[0,1],"nice":false},"axis":null}}},
    {"data":{"name":"vlinesA"},"mark":{"type":"rule","color":"#111","strokeWidth":1.5},"encoding":{"x":{"field":"t","type":"quantitative","scale":{"domain":[0,25],"nice":false},"axis":null},"strokeDash":{"field":"k","type":"nominal","scale":{"domain":["dot","dash","RS","FS"],"range":[[1.5,2.5],[6.5,3],[8,4],[1,0]]},"legend":null}}},
    {"data":{"name":"curvesA"},"mark":{"type":"line","strokeWidth":1.8,"strokeDash":[5,3]},"encoding":{"x":{"field":"t","type":"quantitative","scale":{"domain":[0,25],"nice":false},"axis":{"orient":"top","values":[0,5,10,15,20,25],"tickSize":-3,"labels":false,"title":null}},"y":{"field":"v","type":"quantitative","scale":{"domain":[0,1],"nice":false},"axis":null},"color":{"field":"s","type":"nominal","scale":{"domain":["RS","FS","red","maroon","purple","blue","green"],"range":["#e8262a","#2456b4","#ec2227","#8e1d5e","#5b2c95","#1d93d6","#66be45"]},"legend":null}}},
    {"data":{"name":"lfpA"},"mark":{"type":"text","fontSize":12.5,"baseline":"alphabetic","align":"center"},"encoding":{"x":{"field":"t","type":"quantitative","scale":{"domain":[0,25],"nice":false},"axis":null},"y":{"field":"v","type":"quantitative","scale":{"domain":[0,1],"nice":false},"axis":null},"text":{"field":"label"}}},
    {"data":{"name":"rsfsA"},"mark":{"type":"text","fontSize":13,"baseline":"alphabetic","align":"center"},"encoding":{"x":{"field":"t","type":"quantitative","scale":{"domain":[0,25],"nice":false},"axis":null},"y":{"field":"v","type":"quantitative","scale":{"domain":[0,1],"nice":false},"axis":null},"text":{"field":"label"},"color":{"field":"s","type":"nominal","scale":{"domain":["RS","FS","red","maroon","purple","blue","green"],"range":["#e8262a","#2456b4","#ec2227","#8e1d5e","#5b2c95","#1d93d6","#66be45"]},"legend":null}}},
    {"data":{"name":"letterA"},"mark":{"type":"text","fontSize":27,"baseline":"alphabetic","align":"left"},"encoding":{"x":{"field":"t","type":"quantitative","scale":{"domain":[0,25],"nice":false},"axis":null},"y":{"field":"v","type":"quantitative","scale":{"domain":[0,1],"nice":false},"axis":null},"text":{"field":"label"}}}
   ]},
   {"width":228,"height":114,"resolve":{"axis":{"x":"independent"}},"layer":[
    {"data":{"name":"barsA2"},"mark":{"type":"bar","width":7,"color":"#969696"},"encoding":{"x":{"field":"t","type":"quantitative","scale":{"domain":[0,25],"nice":false},"axis":{"orient":"bottom","values":[0,5,10,15,20,25],"tickSize":-3,"labels":false,"title":null}},"y":{"field":"h","type":"quantitative","scale":{"domain":[0,1],"nice":false},"axis":null}}},
    {"data":{"name":"vlinesA"},"mark":{"type":"rule","color":"#111","strokeWidth":1.5},"encoding":{"x":{"field":"t","type":"quantitative","scale":{"domain":[0,25],"nice":false},"axis":null},"strokeDash":{"field":"k","type":"nominal","scale":{"domain":["dot","dash","RS","FS"],"range":[[1.5,2.5],[6.5,3],[8,4],[1,0]]},"legend":null}}},
    {"data":{"name":"curvesA"},"mark":{"type":"line","strokeWidth":1.8,"strokeDash":[5,3]},"encoding":{"x":{"field":"t","type":"quantitative","scale":{"domain":[0,25],"nice":false},"axis":{"orient":"top","values":[0,5,10,15,20,25],"tickSize":-3,"labels":false,"title":null}},"y":{"field":"v","type":"quantitative","scale":{"domain":[0,1],"nice":false},"axis":null},"color":{"field":"s","type":"nominal","scale":{"domain":["RS","FS","red","maroon","purple","blue","green"],"range":["#e8262a","#2456b4","#ec2227","#8e1d5e","#5b2c95","#1d93d6","#66be45"]},"legend":null}}}
   ]},
   {"width":228,"height":114,"resolve":{"axis":{"x":"independent"}},"layer":[
    {"data":{"name":"barsA3"},"mark":{"type":"bar","width":7,"color":"#969696"},"encoding":{"x":{"field":"t","type":"quantitative","scale":{"domain":[0,25],"nice":false},"axis":{"orient":"bottom","values":[0,5,10,15,20,25],"tickSize":-3,"labels":false,"title":null}},"y":{"field":"h","type":"quantitative","scale":{"domain":[0,1],"nice":false},"axis":null}}},
    {"data":{"name":"vlinesA"},"mark":{"type":"rule","color":"#111","strokeWidth":1.5},"encoding":{"x":{"field":"t","type":"quantitative","scale":{"domain":[0,25],"nice":false},"axis":null},"strokeDash":{"field":"k","type":"nominal","scale":{"domain":["dot","dash","RS","FS"],"range":[[1.5,2.5],[6.5,3],[8,4],[1,0]]},"legend":null}}},
    {"data":{"name":"curvesA"},"mark":{"type":"line","strokeWidth":1.8,"strokeDash":[5,3]},"encoding":{"x":{"field":"t","type":"quantitative","scale":{"domain":[0,25],"nice":false},"axis":{"orient":"top","values":[0,5,10,15,20,25],"tickSize":-3,"labels":false,"title":null}},"y":{"field":"v","type":"quantitative","scale":{"domain":[0,1],"nice":false},"axis":null},"color":{"field":"s","type":"nominal","scale":{"domain":["RS","FS","red","maroon","purple","blue","green"],"range":["#e8262a","#2456b4","#ec2227","#8e1d5e","#5b2c95","#1d93d6","#66be45"]},"legend":null}}}
   ]},
   {"width":228,"height":114,"resolve":{"axis":{"x":"independent"}},"layer":[
    {"data":{"name":"barsA4"},"mark":{"type":"bar","width":7,"color":"#969696"},"encoding":{"x":{"field":"t","type":"quantitative","scale":{"domain":[0,25],"nice":false},"axis":{"orient":"bottom","values":[0,5,10,15,20,25],"tickSize":-3,"labelPadding":9,"title":"Time (ms)","titlePadding":2}},"y":{"field":"h","type":"quantitative","scale":{"domain":[0,1],"nice":false},"axis":null}}},
    {"data":{"name":"vlinesA"},"mark":{"type":"rule","color":"#111","strokeWidth":1.5},"encoding":{"x":{"field":"t","type":"quantitative","scale":{"domain":[0,25],"nice":false},"axis":null},"strokeDash":{"field":"k","type":"nominal","scale":{"domain":["dot","dash","RS","FS"],"range":[[1.5,2.5],[6.5,3],[8,4],[1,0]]},"legend":null}}},
    {"data":{"name":"curvesA"},"mark":{"type":"line","strokeWidth":1.8,"strokeDash":[5,3]},"encoding":{"x":{"field":"t","type":"quantitative","scale":{"domain":[0,25],"nice":false},"axis":{"orient":"top","values":[0,5,10,15,20,25],"tickSize":-3,"labels":false,"title":null}},"y":{"field":"v","type":"quantitative","scale":{"domain":[0,1],"nice":false},"axis":null},"color":{"field":"s","type":"nominal","scale":{"domain":["RS","FS","red","maroon","purple","blue","green"],"range":["#e8262a","#2456b4","#ec2227","#8e1d5e","#5b2c95","#1d93d6","#66be45"]},"legend":null}}}
   ]},
   {"width":228,"height":57,"view":{"stroke":null},"data":{"name":"spacer"},"mark":{"type":"point","opacity":0},"encoding":{}},
   {"width":228,"height":114,"resolve":{"axis":{"x":"independent"}},"layer":[
    {"data":{"name":"barsB1"},"mark":{"type":"bar","width":7,"color":"#969696"},"encoding":{"x":{"field":"t","type":"quantitative","scale":{"domain":[0,25],"nice":false},"axis":{"orient":"bottom","values":[0,5,10,15,20,25],"tickSize":-3,"labels":false,"title":null}},"y":{"field":"h","type":"quantitative","scale":{"domain":[0,1],"nice":false},"axis":null}}},
    {"data":{"name":"vlinesA"},"mark":{"type":"rule","color":"#111","strokeWidth":1.5},"encoding":{"x":{"field":"t","type":"quantitative","scale":{"domain":[0,25],"nice":false},"axis":null},"strokeDash":{"field":"k","type":"nominal","scale":{"domain":["dot","dash","RS","FS"],"range":[[1.5,2.5],[6.5,3],[8,4],[1,0]]},"legend":null}}},
    {"data":{"name":"curvesA"},"mark":{"type":"line","strokeWidth":1.8,"strokeDash":[5,3]},"encoding":{"x":{"field":"t","type":"quantitative","scale":{"domain":[0,25],"nice":false},"axis":{"orient":"top","values":[0,5,10,15,20,25],"tickSize":-3,"labels":false,"title":null}},"y":{"field":"v","type":"quantitative","scale":{"domain":[0,1],"nice":false},"axis":null},"color":{"field":"s","type":"nominal","scale":{"domain":["RS","FS","red","maroon","purple","blue","green"],"range":["#e8262a","#2456b4","#ec2227","#8e1d5e","#5b2c95","#1d93d6","#66be45"]},"legend":null}}},
    {"data":{"name":"letterB"},"mark":{"type":"text","fontSize":27,"baseline":"alphabetic","align":"left"},"encoding":{"x":{"field":"t","type":"quantitative","scale":{"domain":[0,25],"nice":false},"axis":null},"y":{"field":"v","type":"quantitative","scale":{"domain":[0,1],"nice":false},"axis":null},"text":{"field":"label"}}}
   ]},
   {"width":228,"height":114,"resolve":{"axis":{"x":"independent"}},"layer":[
    {"data":{"name":"barsB2"},"mark":{"type":"bar","width":7,"color":"#969696"},"encoding":{"x":{"field":"t","type":"quantitative","scale":{"domain":[0,25],"nice":false},"axis":{"orient":"bottom","values":[0,5,10,15,20,25],"tickSize":-3,"labelPadding":9,"title":"Time (ms)","titlePadding":2}},"y":{"field":"h","type":"quantitative","scale":{"domain":[0,1],"nice":false},"axis":null}}},
    {"data":{"name":"vlinesA"},"mark":{"type":"rule","color":"#111","strokeWidth":1.5},"encoding":{"x":{"field":"t","type":"quantitative","scale":{"domain":[0,25],"nice":false},"axis":null},"strokeDash":{"field":"k","type":"nominal","scale":{"domain":["dot","dash","RS","FS"],"range":[[1.5,2.5],[6.5,3],[8,4],[1,0]]},"legend":null}}},
    {"data":{"name":"curvesA"},"mark":{"type":"line","strokeWidth":1.8,"strokeDash":[5,3]},"encoding":{"x":{"field":"t","type":"quantitative","scale":{"domain":[0,25],"nice":false},"axis":{"orient":"top","values":[0,5,10,15,20,25],"tickSize":-3,"labels":false,"title":null}},"y":{"field":"v","type":"quantitative","scale":{"domain":[0,1],"nice":false},"axis":null},"color":{"field":"s","type":"nominal","scale":{"domain":["RS","FS","red","maroon","purple","blue","green"],"range":["#e8262a","#2456b4","#ec2227","#8e1d5e","#5b2c95","#1d93d6","#66be45"]},"legend":null}}}
   ]}
 ]},
 {"bounds":"flush","spacing":7,"vconcat":[
   {"width":305,"height":17,"view":{"stroke":null},"data":{"name":"spacer"},"mark":{"type":"point","opacity":0},"encoding":{}},
   {"width":305,"height":200,"resolve":{"axis":{"x":"independent","y":"independent"}},"layer":[
    {"data":{"name":"zeroline"},"mark":{"type":"rule","color":"#555","strokeWidth":0.9},"encoding":{"x":{"field":"t","type":"quantitative","scale":{"domain":[-25,25],"nice":false},"axis":null}}},
    {"data":{"name":"vlinesC"},"mark":{"type":"rule","color":"#111","strokeWidth":1.7},"encoding":{"x":{"field":"t","type":"quantitative","scale":{"domain":[-25,25],"nice":false},"axis":null},"strokeDash":{"field":"k","type":"nominal","scale":{"domain":["dot","dash","RS","FS"],"range":[[1.5,2.5],[6.5,3],[8,4],[1,0]]},"legend":null}}},
    {"data":{"name":"barsC"},"mark":{"type":"bar","width":4.8},"encoding":{"x":{"field":"t","type":"quantitative","scale":{"domain":[-25,25],"nice":false},"axis":{"orient":"bottom","values":[-25,-20,-15,-10,-5,0,5,10,15,20,25],"tickSize":-4,"labelPadding":9,"title":"Time (ms)","titlePadding":3}},"y":{"field":"h","type":"quantitative","scale":{"domain":[0,2],"nice":false},"axis":{"orient":"left","values":[0,0.5,1,1.5,2],"labelExpr":"datum.value % 1 === 0 ? format(datum.value, 'd') : ''","tickSize":-4,"labelPadding":9,"title":"Conductance (nS)","titleFontSize":15,"titlePadding":11}},"color":{"field":"g","type":"nominal","scale":{"domain":["RS","FS","red","maroon","purple","blue","green"],"range":["#e8262a","#2456b4","#ec2227","#8e1d5e","#5b2c95","#1d93d6","#66be45"]},"legend":null}}},
    {"data":{"name":"blackC"},"mark":{"type":"line","color":"#111","strokeWidth":1.6},"encoding":{"x":{"field":"t","type":"quantitative","scale":{"domain":[-25,25],"nice":false},"axis":{"orient":"top","values":[-25,-20,-15,-10,-5,0,5,10,15,20,25],"tickSize":-4,"labels":false,"title":null}},"y":{"field":"v","type":"quantitative","scale":{"domain":[0,2],"nice":false},"axis":{"orient":"right","values":[0,0.5,1,1.5,2],"tickSize":-4,"labels":false,"title":null}},"strokeDash":{"field":"s","type":"nominal","scale":{"domain":["dot","dash","RS","FS"],"range":[[1.5,2.5],[6.5,3],[8,4],[1,0]]},"legend":null}}},
    {"data":{"name":"ampa"},"mark":{"type":"line","strokeWidth":1.6},"encoding":{"x":{"field":"t","type":"quantitative","scale":{"domain":[-25,25],"nice":false},"axis":null},"y":{"field":"v","type":"quantitative","scale":{"domain":[0,2],"nice":false},"axis":null},"color":{"field":"c","type":"nominal","scale":{"domain":["RS","FS","red","maroon","purple","blue","green"],"range":["#e8262a","#2456b4","#ec2227","#8e1d5e","#5b2c95","#1d93d6","#66be45"]},"legend":null}}},
    {"data":{"name":"textC"},"mark":{"type":"text","fontSize":12.5,"baseline":"alphabetic","align":"center"},"encoding":{"x":{"field":"t","type":"quantitative","scale":{"domain":[-25,25],"nice":false},"axis":null},"y":{"field":"v","type":"quantitative","scale":{"domain":[0,2],"nice":false},"axis":null},"text":{"field":"label"}}},
    {"data":{"name":"bigC"},"mark":{"type":"text","fontSize":23.5,"baseline":"alphabetic","align":"left"},"encoding":{"x":{"field":"t","type":"quantitative","scale":{"domain":[-25,25],"nice":false},"axis":null},"y":{"field":"v","type":"quantitative","scale":{"domain":[0,2],"nice":false},"axis":null},"text":{"field":"label"}}},
    {"data":{"name":"letterC"},"mark":{"type":"text","fontSize":27,"baseline":"alphabetic","align":"left"},"encoding":{"x":{"field":"t","type":"quantitative","scale":{"domain":[-25,25],"nice":false},"axis":null},"y":{"field":"v","type":"quantitative","scale":{"domain":[0,2],"nice":false},"axis":null},"text":{"field":"label"}}}
   ]},
   {"width":305,"height":154,"view":{"stroke":null},"data":{"name":"spacer"},"mark":{"type":"point","opacity":0},"encoding":{}},
   {"width":305,"height":203,"resolve":{"axis":{"x":"independent","y":"independent"}},"layer":[
    {"data":{"name":"zeroline"},"mark":{"type":"rule","color":"#555","strokeWidth":0.9},"encoding":{"x":{"field":"t","type":"quantitative","scale":{"domain":[-25,25],"nice":false},"axis":null}}},
    {"data":{"name":"vlinesC"},"mark":{"type":"rule","color":"#111","strokeWidth":1.7},"encoding":{"x":{"field":"t","type":"quantitative","scale":{"domain":[-25,25],"nice":false},"axis":null},"strokeDash":{"field":"k","type":"nominal","scale":{"domain":["dot","dash","RS","FS"],"range":[[1.5,2.5],[6.5,3],[8,4],[1,0]]},"legend":null}}},
    {"data":{"name":"barsD"},"mark":{"type":"bar","width":4.8},"encoding":{"x":{"field":"t","type":"quantitative","scale":{"domain":[-25,25],"nice":false},"axis":{"orient":"bottom","values":[-25,-20,-15,-10,-5,0,5,10,15,20,25],"tickSize":-4,"labelPadding":11,"title":"Time (ms)","titlePadding":3}},"y":{"field":"h","type":"quantitative","scale":{"domain":[0,10],"nice":false},"axis":{"orient":"left","values":[0,5,10],"tickSize":-4,"labelPadding":9,"title":"Conductance (nS)","titleFontSize":15,"titlePadding":4}},"color":{"field":"g","type":"nominal","scale":{"domain":["RS","FS","red","maroon","purple","blue","green"],"range":["#e8262a","#2456b4","#ec2227","#8e1d5e","#5b2c95","#1d93d6","#66be45"]},"legend":null}}},
    {"data":{"name":"blackD"},"mark":{"type":"line","color":"#111","strokeWidth":1.6},"encoding":{"x":{"field":"t","type":"quantitative","scale":{"domain":[-25,25],"nice":false},"axis":{"orient":"top","values":[-25,-20,-15,-10,-5,0,5,10,15,20,25],"tickSize":-4,"labels":false,"title":null}},"y":{"field":"v","type":"quantitative","scale":{"domain":[0,10],"nice":false},"axis":{"orient":"right","values":[0,5,10],"tickSize":-4,"labels":false,"title":null}},"strokeDash":{"field":"s","type":"nominal","scale":{"domain":["dot","dash","RS","FS"],"range":[[1.5,2.5],[6.5,3],[8,4],[1,0]]},"legend":null}}},
    {"data":{"name":"gaba"},"mark":{"type":"line","strokeWidth":1.6},"encoding":{"x":{"field":"t","type":"quantitative","scale":{"domain":[-25,25],"nice":false},"axis":null},"y":{"field":"v","type":"quantitative","scale":{"domain":[0,10],"nice":false},"axis":null},"color":{"field":"c","type":"nominal","scale":{"domain":["RS","FS","red","maroon","purple","blue","green"],"range":["#e8262a","#2456b4","#ec2227","#8e1d5e","#5b2c95","#1d93d6","#66be45"]},"legend":null}}},
    {"data":{"name":"textD"},"mark":{"type":"text","fontSize":12.5,"baseline":"alphabetic","align":"center"},"encoding":{"x":{"field":"t","type":"quantitative","scale":{"domain":[-25,25],"nice":false},"axis":null},"y":{"field":"v","type":"quantitative","scale":{"domain":[0,10],"nice":false},"axis":null},"text":{"field":"label"}}},
    {"data":{"name":"bigD"},"mark":{"type":"text","fontSize":23.5,"baseline":"alphabetic","align":"left"},"encoding":{"x":{"field":"t","type":"quantitative","scale":{"domain":[-25,25],"nice":false},"axis":null},"y":{"field":"v","type":"quantitative","scale":{"domain":[0,10],"nice":false},"axis":null},"text":{"field":"label"}}},
    {"data":{"name":"letterD"},"mark":{"type":"text","fontSize":27,"baseline":"alphabetic","align":"left"},"encoding":{"x":{"field":"t","type":"quantitative","scale":{"domain":[-25,25],"nice":false},"axis":null},"y":{"field":"v","type":"quantitative","scale":{"domain":[0,10],"nice":false},"axis":null},"text":{"field":"label"}}}
   ]}
 ]}
]
}
